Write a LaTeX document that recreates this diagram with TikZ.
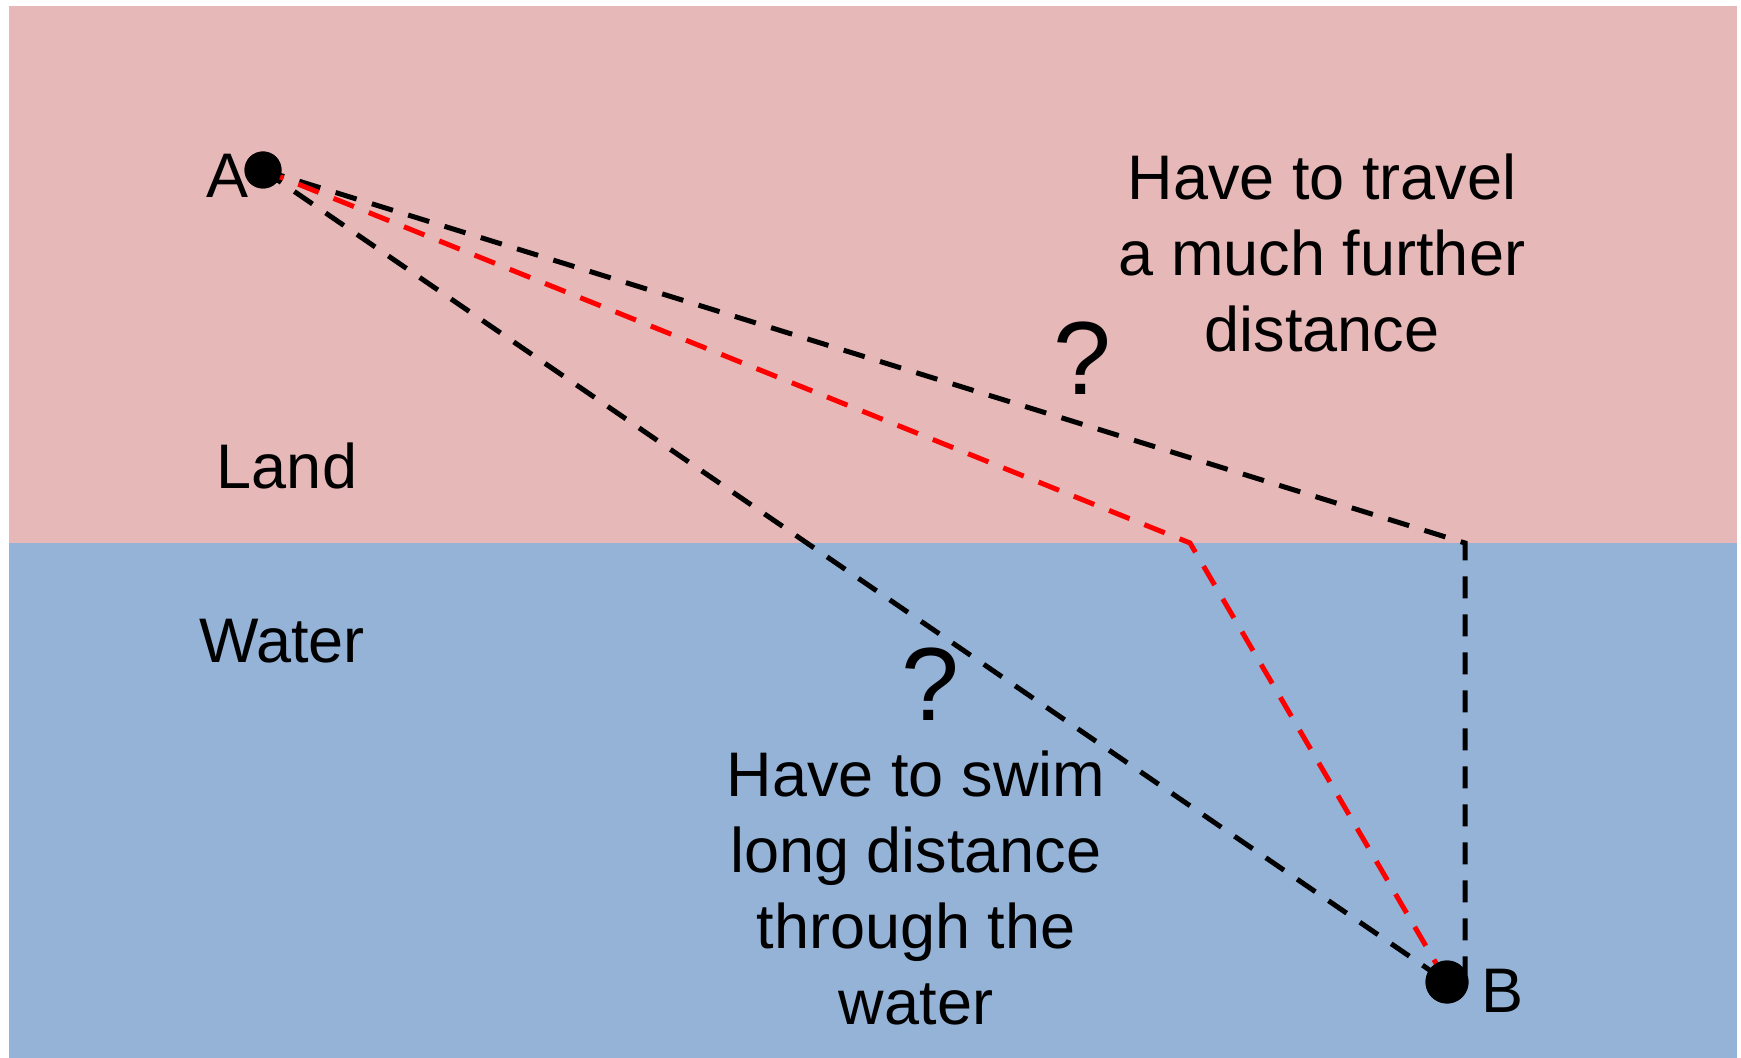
\documentclass[tikz,border=0pt]{standalone}
\usepackage{fontspec}
\setmainfont{Liberation Sans}
\definecolor{landfill}{HTML}{E6B8B7}
\definecolor{waterfill}{HTML}{95B3D7}
\definecolor{routered}{HTML}{FF0000}
\tikzset{
  label/.style={inner sep=0pt, anchor=base, font=\fontsize{31.5}{38}\selectfont},
  note/.style={label, align=center},
  ask/.style={inner sep=0pt, anchor=base, font=\fontsize{52}{60}\selectfont},
  spot/.style={circle, fill=black, inner sep=0pt},
  route/.style={dash pattern=on 11pt off 8pt, line width=2.5pt},
}

\begin{document}
\begin{tikzpicture}[x=0.5pt, y=-0.5pt]
    \useasboundingbox (0,0) rectangle (1741,1058);
    % land and water
    \fill[landfill] (9,6) rectangle (1737,543);
    \fill[waterfill] (9,543) rectangle (1737,1058);
    \node[label] (land) at (287,489) {Land};
    \node[label] (water) at (282,663) {Water};
    % the two points
    \node[spot, minimum size=18.5pt] (a) at (263,170) {};
    \node[spot, minimum size=21.5pt] (b) at (1447,982) {};
    \coordinate (shore) at (1190,543);
    \coordinate (corner) at (1465,543);
    \coordinate (under) at (1465,975);
    % routes
    \draw[route] (a.center) -- (corner) -- (under);
    \draw[route] (a.center) -- (b.center);
    \draw[route, routered] (a.center) -- (shore) -- (b.center);
    \node[spot, minimum size=18.5pt] at (a) {};
    \node[spot, minimum size=21.5pt] at (b) {};
    \node[label] (alabel) at (228,198) {A};
    \node[label] (blabel) at (1502,1012) {B};
    % notes (base is the last line)
    \node[ask] (askland) at (1082,395) {?};
    \node[ask] (askwater) at (930,720) {?};
    \node[note] (travel) at (1322,352) {Have to travel\\a much further\\distance};
    \node[note] (swim) at (916,1024) {Have to swim\\long distance\\through the\\water};
\end{tikzpicture}
\end{document}
